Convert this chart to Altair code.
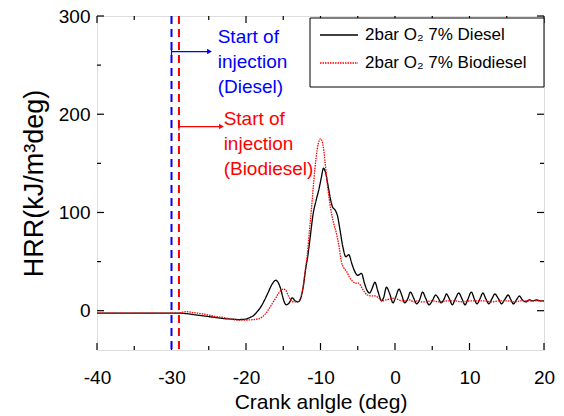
import altair as alt
import pandas as pd

# ---------------- data ----------------
diesel_angle = [-40, -35, -30, -29, -28, -27, -26, -25, -24, -23, -22, -21, -20, -19.5, -19, -18.5,
                -18, -17.5, -17, -16.5, -16, -15.7, -15.3, -15, -14.6, -14.2, -13.8, -13.4, -13,
                -12.6, -12.3, -12, -11.7, -11.3, -11, -10.6, -10.2, -9.9, -9.6, -9.3, -9.0, -8.7,
                -8.4, -8.0, -7.7, -7.4, -7.0, -6.6, -6.2, -5.8, -5.4, -5.0, -4.5, -4.1, -3.7, -3.4,
                -3.0, -2.7, -2.3, -1.8, -1.5, -1.15, -0.7, -0.27, 0.1, 0.54, 0.9, 1.3, 1.7, 2.07,
                2.5, 2.9, 3.3, 3.7, 4.1, 4.57, 5.0, 5.46, 5.8, 6.2, 6.6, 6.9, 7.3, 7.7, 8.1, 8.55,
                9.0, 9.4, 9.8, 10.25, 10.6, 11.0, 11.4, 11.8, 12.2, 12.6, 13.0, 13.4, 13.9, 14.3,
                14.7, 15.2, 15.5, 15.9, 16.3, 16.7, 17.1, 17.6, 18.0, 18.5, 19.0, 19.5, 20]
diesel_hrr = [-2.5, -2.5, -2.5, -2.5, -3, -4, -5, -6, -7, -8, -8.5, -9, -8.5, -7, -5, -1,
              4, 11, 19, 27, 31, 29, 21, 12, 6, 8, 13, 10, 9,
              14, 25, 42, 56, 80, 98, 112, 124, 135, 145, 140, 128, 115,
              106, 102, 96, 83, 65, 55, 57, 48, 40, 36, 38, 28, 20, 18,
              24, 29, 20, 10, 14, 24, 17, 8, 14, 22, 16, 8, 12, 19,
              13, 7, 11, 19, 13, 6, 10, 16, 13, 8, 12, 17, 12, 6, 12, 18,
              12, 6, 12, 19, 13, 7, 12, 18, 12, 7, 12, 17, 12, 7,
              11, 16, 12, 7, 11, 15, 11, 9, 11, 10, 11, 10, 10]

bio_angle = [-40, -35, -30, -29, -28.5, -28, -27, -26, -25, -24, -23, -22, -21, -20, -19, -18.2,
             -17.5, -17, -16.5, -16, -15.5, -15, -14.7, -14.3, -14, -13.6, -13.2, -12.8, -12.4,
             -12.1, -11.8, -11.5, -11.2, -10.9, -10.6, -10.3, -10.0, -9.7, -9.4, -9.1, -8.8, -8.5,
             -8.2, -7.9, -7.5, -7.2, -6.9, -6.5, -6.1, -5.7, -5.3, -4.9, -4.5, -4.1, -3.7, -3.2,
             -2.7, -2.2, -1.7, -1.2, -0.6, 0, 0.5, 1.0, 1.5, 2.0, 2.5, 3.0, 3.5, 4, 5, 6, 7, 8,
             9, 10, 11, 12, 13, 14, 15, 16, 17, 18, 19, 20]
bio_hrr = [-2.5, -2.5, -2.5, -2.5, -1.5, -1, -2, -3, -4.5, -6, -7, -8.5, -9.5, -9.5, -9, -8,
           -4, 1, 7, 13, 19, 22, 21, 15, 11, 9, 9, 11, 22,
           38, 55, 80, 105, 132, 155, 170, 175, 170, 152, 130, 112, 98,
           88, 80, 65, 50, 44, 40, 34, 30, 28, 28, 24, 19, 16, 15,
           15, 13, 10, 11, 12, 13, 11, 10, 10, 11, 9, 10, 9, 9, 10, 9, 10, 10,
           9, 10, 10, 10, 9, 10, 10, 9, 10, 10, 10, 10]

series_names = ["2bar O\u2082 7% Diesel", "2bar O\u2082 7% Biodiesel"]
series_colors = ["#000000", "#ff0000"]

x_major = [-40, -30, -20, -10, 0, 10, 20]
x_minor = [-35, -25, -15, -5, 5, 15]
y_major = [0, 100, 200, 300]
y_minor = [50, 150, 250]

soi_angle = [-30, -29]          # start of injection (Diesel, Biodiesel)
soi_colors = ["#0000ff", "#ff0000"]
arrow_end = [-24.9, -23.3]
arrow_level = [263.8, 187.4]
note_text = ["Start of\ninjection\n(Diesel)", "Start of\ninjection\n(Biodiesel)"]
note_x = [-23.8, -23.0]
note_y = [272.3, 189.4]

# ---------------- tables ----------------
df = pd.concat([
    pd.DataFrame({"angle": diesel_angle, "hrr": diesel_hrr, "series": series_names[0]}),
    pd.DataFrame({"angle": bio_angle, "hrr": bio_hrr, "series": series_names[1]}),
])
soi = pd.DataFrame({"angle": soi_angle, "color": soi_colors, "end": arrow_end,
                    "level": arrow_level, "text": note_text, "tx": note_x, "ty": note_y})
xmaj = pd.DataFrame({"v": x_major})
xmin = pd.DataFrame({"v": x_minor})
ymaj = pd.DataFrame({"v": y_major})
ymin = pd.DataFrame({"v": y_minor})
one = pd.DataFrame({"k": [0]})

W, H = 447, 334
FONT = "Liberation Sans"
xs = alt.Scale(domain=[-40, 20], nice=False, zero=False)
ys = alt.Scale(domain=[-40, 300], nice=False, zero=False)

x_axis = alt.Axis(values=x_major, title="Crank anlgle (deg)", labelExpr="'' + datum.value",
                  ticks=False, domain=False, grid=False, labelFontSize=19, labelPadding=18,
                  titleFontSize=21, titleFontWeight="normal", titlePadding=4, labelFlush=False,
                  labelFont=FONT, titleFont=FONT, labelColor="black", titleColor="black")
y_axis = alt.Axis(values=y_major, title="HRR(kJ/m\u00b3deg)", labelExpr="'' + datum.value",
                  ticks=False, domain=False, grid=False, labelFontSize=19, labelPadding=7,
                  titleFontSize=27, titleFontWeight="normal", titlePadding=10,
                  labelFont=FONT, titleFont=FONT, labelColor="black", titleColor="black")

lines = alt.Chart(df).mark_line(strokeWidth=1.3, clip=True, interpolate="monotone").encode(
    x=alt.X("angle:Q", scale=xs, axis=x_axis),
    y=alt.Y("hrr:Q", scale=ys, axis=y_axis),
    color=alt.Color("series:N", scale=alt.Scale(domain=series_names, range=series_colors), legend=None),
    strokeDash=alt.StrokeDash("series:N", scale=alt.Scale(domain=series_names, range=[[1, 0], [1.5, 1]]),
                              legend=None),
)

vlines = alt.Chart(soi).mark_rule(strokeWidth=2, strokeDash=[8, 5]).encode(
    x=alt.X("angle:Q", scale=xs), color=alt.Color("color:N", scale=None))

arrows = alt.Chart(soi).mark_rule(strokeWidth=1.2).encode(
    x=alt.X("angle:Q", scale=xs), x2="end:Q", y=alt.Y("level:Q", scale=ys),
    color=alt.Color("color:N", scale=None))
heads = alt.Chart(soi).mark_point(shape="triangle-right", filled=True, size=30, opacity=1).encode(
    x=alt.X("end:Q", scale=xs), y=alt.Y("level:Q", scale=ys), color=alt.Color("color:N", scale=None))
bars = alt.Chart(soi).mark_point(shape="M0,-1L0,1", filled=False, size=60, strokeWidth=1.2, opacity=1).encode(
    x=alt.X("angle:Q", scale=xs), y=alt.Y("level:Q", scale=ys), color=alt.Color("color:N", scale=None))
notes = alt.Chart(soi).mark_text(align="left", baseline="alphabetic", lineBreak="\n", lineHeight=25,
                                 fontSize=19, font=FONT).encode(
    x=alt.X("tx:Q", scale=xs), y=alt.Y("ty:Q", scale=ys), text="text:N",
    color=alt.Color("color:N", scale=None))

# inward ticks on all four sides
def xticks(data, length):
    bottom = alt.Chart(data).mark_rule(color="black", strokeWidth=1.2).encode(
        x=alt.X("v:Q", scale=xs), y=alt.value(H), y2=alt.value(H - length))
    top = alt.Chart(data).mark_rule(color="black", strokeWidth=1.2).encode(
        x=alt.X("v:Q", scale=xs), y=alt.value(0), y2=alt.value(length))
    return [bottom, top]

def yticks(data, length):
    left = alt.Chart(data).mark_rule(color="black", strokeWidth=1.2).encode(
        y=alt.Y("v:Q", scale=ys), x=alt.value(0), x2=alt.value(length))
    right = alt.Chart(data).mark_rule(color="black", strokeWidth=1.2).encode(
        y=alt.Y("v:Q", scale=ys), x=alt.value(W), x2=alt.value(W - length))
    return [left, right]

tick_layers = xticks(xmaj, 7) + xticks(xmin, 4) + yticks(ymaj, 7) + yticks(ymin, 4)

# legend (custom box)
leg_box = alt.Chart(one).mark_rect(fill="white", stroke="black", strokeWidth=1).encode(
    x=alt.value(213), x2=alt.value(447), y=alt.value(2), y2=alt.value(71))
leg_l1 = alt.Chart(one).mark_rule(color=series_colors[0], strokeWidth=1.3).encode(
    x=alt.value(223), x2=alt.value(261), y=alt.value(19))
leg_l2 = alt.Chart(one).mark_rule(color=series_colors[1], strokeWidth=1.3, strokeDash=[1.5, 1]).encode(
    x=alt.value(223), x2=alt.value(261), y=alt.value(47))
leg_t1 = alt.Chart(one).mark_text(align="left", baseline="middle", fontSize=17, font=FONT).encode(
    x=alt.value(268), y=alt.value(19), text=alt.value(series_names[0]))
leg_t2 = alt.Chart(one).mark_text(align="left", baseline="middle", fontSize=17, font=FONT).encode(
    x=alt.value(268), y=alt.value(47), text=alt.value(series_names[1]))

chart = alt.layer(
    lines, *tick_layers,
    vlines, arrows, heads, bars, notes,
    leg_box, leg_l1, leg_l2, leg_t1, leg_t2,
).properties(
    width=W, height=H,
    padding={"left": 97, "top": 16, "right": 20, "bottom": 66},
    autosize=alt.AutoSizeParams(type="none"),
).configure_view(stroke="black", strokeWidth=1.5).configure(background="white")

chart.save("out.html", embed_options={"renderer": "svg", "actions": False})
